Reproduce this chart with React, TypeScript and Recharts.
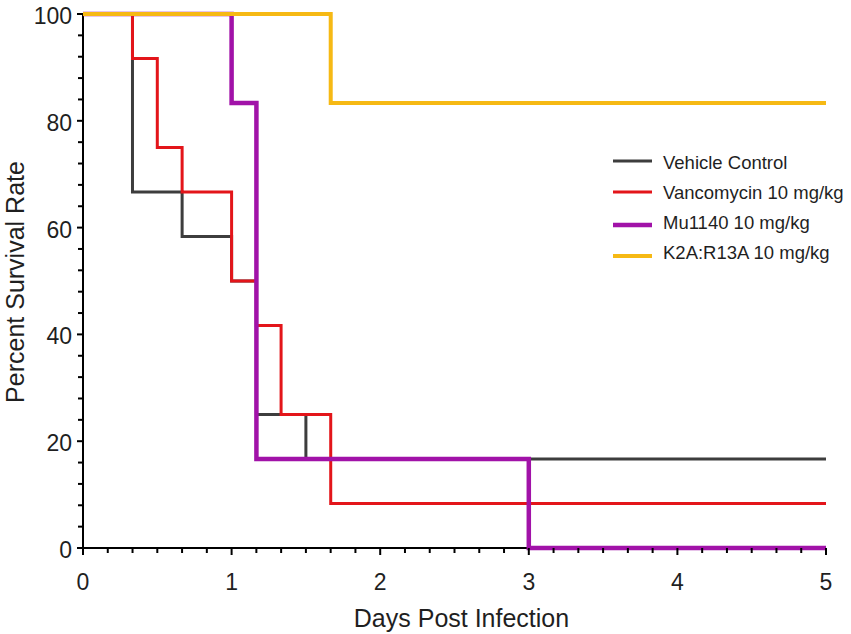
import React from 'react';
import { LineChart, Line, XAxis, YAxis, Legend } from 'recharts';

const FONT = '"Liberation Sans", Arial, Helvetica, sans-serif';
const TEXT_COLOR = '#1f1f1f';

// Days post infection at which each step begins, and the survival (%) from then on
const VEHICLE_DAYS = [0, 0.333, 0.667, 1.0, 1.167, 1.5, 5];
const VEHICLE_SURV = [100, 66.67, 58.33, 50, 25, 16.67, 16.67];

const VANCO_DAYS = [0, 0.333, 0.5, 0.667, 1.0, 1.167, 1.333, 1.667, 5];
const VANCO_SURV = [100, 91.67, 75, 66.67, 50, 41.67, 25, 8.33, 8.33];

const MU1140_DAYS = [0, 1.0, 1.167, 3.0, 5];
const MU1140_SURV = [100, 83.33, 16.67, 0, 0];

const K2A_DAYS = [0, 1.667, 5];
const K2A_SURV = [100, 83.33, 83.33];

const SERIES_NAMES = ['Vehicle Control', 'Vancomycin 10 mg/kg', 'Mu1140 10 mg/kg', 'K2A:R13A 10 mg/kg'];

const X_MAJOR_TICKS = [0, 1, 2, 3, 4, 5];
const Y_MAJOR_TICKS = [0, 20, 40, 60, 80, 100];
const X_MINOR_PER_MAJOR = 6;
const Y_MINOR_STEP = 4;

const X_TICKS = Array.from({ length: (X_MAJOR_TICKS.length - 1) * X_MINOR_PER_MAJOR + 1 }, (_, i) => i / X_MINOR_PER_MAJOR);
const Y_TICKS = Array.from({ length: 100 / Y_MINOR_STEP + 1 }, (_, i) => i * Y_MINOR_STEP);

const toPoints = (days: number[], surv: number[]) => days.map((d, i) => ({ day: d, pct: surv[i] }));

const SERIES = [
  { name: SERIES_NAMES[0], color: '#3d3d3d', width: 3, points: toPoints(VEHICLE_DAYS, VEHICLE_SURV) },
  { name: SERIES_NAMES[1], color: '#e3151a', width: 3, points: toPoints(VANCO_DAYS, VANCO_SURV) },
  { name: SERIES_NAMES[2], color: '#a112a8', width: 4.5, points: toPoints(MU1140_DAYS, MU1140_SURV) },
  { name: SERIES_NAMES[3], color: '#f6b914', width: 4, points: toPoints(K2A_DAYS, K2A_SURV) },
];

const isMajorX = (v: number) => X_MAJOR_TICKS.some((m) => Math.abs(m - v) < 1e-6);
const isMajorY = (v: number) => Y_MAJOR_TICKS.some((m) => Math.abs(m - v) < 1e-6);

const XTick = (props: any) => {
  const { x, y, payload } = props;
  const v = payload.value as number;
  const major = isMajorX(v);
  return (
    <g>
      <line x1={x} y1={y} x2={x} y2={y + (major ? 7 : 5)} stroke="#000" strokeWidth={2} />
      {major && (
        <text x={x} y={y + 42} textAnchor="middle" fontSize={23} fontFamily={FONT} fill={TEXT_COLOR}>
          {Math.round(v)}
        </text>
      )}
    </g>
  );
};

const YTick = (props: any) => {
  const { x, y, payload } = props;
  const v = payload.value as number;
  const major = isMajorY(v);
  return (
    <g>
      <line x1={x} y1={y} x2={x - (major ? 6 : 5)} y2={y} stroke="#000" strokeWidth={2} />
      {major && (
        <text x={x - 11} y={y + 10} textAnchor="end" fontSize={23} fontFamily={FONT} fill={TEXT_COLOR}>
          {Math.round(v)}
        </text>
      )}
    </g>
  );
};

const XTitle = (props: any) => {
  const vb = props.viewBox || { x: 83, y: 548, width: 743, height: 86 };
  const cx = vb.x + vb.width / 2 + 7;
  return (
    <text x={cx} y={626.5} textAnchor="middle" fontSize={25} fontFamily={FONT} fill={TEXT_COLOR}>
      Days Post Infection
    </text>
  );
};

const YTitle = (props: any) => {
  const vb = props.viewBox || { x: 0, y: 14, width: 83, height: 534 };
  const cy = vb.y + vb.height / 2 + 1;
  const bx = 23.5;
  return (
    <text
      x={bx}
      y={cy}
      transform={`rotate(-90, ${bx}, ${cy})`}
      textAnchor="middle"
      fontSize={25}
      fontFamily={FONT}
      fill={TEXT_COLOR}
    >
      Percent Survival Rate
    </text>
  );
};

const LEGEND_LINE_Y = [21, 52, 85, 116];
const LEGEND_TEXT_BASELINE = [28.5, 58.5, 88.5, 118.5];

const LegendBox = () => (
  <svg width={251} height={130} style={{ display: 'block' }}>
    {SERIES.map((s, i) => (
      <g key={s.name}>
        <line x1={13} x2={52} y1={LEGEND_LINE_Y[i]} y2={LEGEND_LINE_Y[i]} stroke={s.color} strokeWidth={s.width} />
        <text x={63} y={LEGEND_TEXT_BASELINE[i]} fontSize={18.5} fontFamily={FONT} fill={TEXT_COLOR}>
          {s.name}
        </text>
      </g>
    ))}
  </svg>
);

export default function App() {
  return (
    <div style={{ width: 851, height: 634, background: '#fff' }}>
      <style>{'body{margin:0;background:#fff;}'}</style>
      <LineChart width={851} height={634} margin={{ top: 14, right: 25, left: 0, bottom: 0 }}>
        <XAxis
          dataKey="day"
          type="number"
          domain={[0, 5]}
          ticks={X_TICKS}
          interval={0}
          height={86}
          tickSize={0}
          tickMargin={0}
          tickLine={false}
          axisLine={{ stroke: '#000', strokeWidth: 2 }}
          tick={<XTick />}
          label={{ content: <XTitle /> } as any}
        />
        <YAxis
          type="number"
          domain={[0, 100]}
          ticks={Y_TICKS}
          interval={0}
          width={83}
          tickSize={0}
          tickMargin={0}
          tickLine={false}
          axisLine={{ stroke: '#000', strokeWidth: 2 }}
          tick={<YTick />}
          label={{ content: <YTitle /> } as any}
        />
        <Legend
          layout="vertical"
          align="center"
          verticalAlign="middle"
          wrapperStyle={{ position: 'absolute', left: 600, top: 140, width: 251, height: 130 }}
          content={<LegendBox />}
        />
        {SERIES.map((s) => (
          <Line
            key={s.name}
            name={s.name}
            data={s.points}
            dataKey="pct"
            type="stepAfter"
            stroke={s.color}
            strokeWidth={s.width}
            dot={false}
            activeDot={false}
            isAnimationActive={false}
            {...({ zIndex: 600 } as any)}
          />
        ))}
      </LineChart>
    </div>
  );
}
